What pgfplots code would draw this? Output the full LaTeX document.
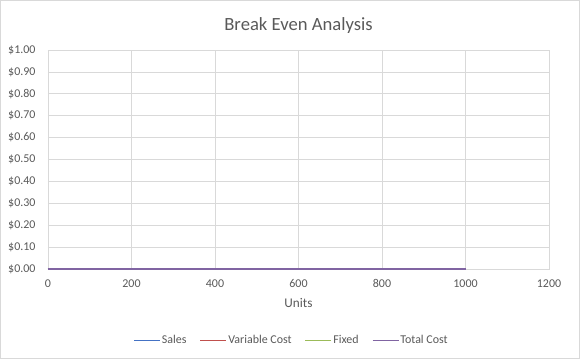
\documentclass[border=0pt]{standalone}
\usepackage{pgfplots}
\pgfplotsset{compat=1.18}
\usepackage{fontspec}
\setmainfont{Carlito}
\definecolor{txt}{HTML}{595959}
\definecolor{grd}{HTML}{D9D9D9}
\definecolor{s1}{HTML}{4472C4}
\definecolor{s2}{HTML}{C0504D}
\definecolor{s3}{HTML}{9BBB59}
\definecolor{s4}{HTML}{8064A2}
\begin{document}
\begin{tikzpicture}[x=1bp,y=1bp]
\draw[grd, line width=0.8bp] (-47.6,-89.6) rectangle (531.6,268.6);
\begin{axis}[
  at={(0,0)}, anchor=origin,
  scale only axis, width=501bp, height=219bp,
  xmin=0, xmax=1200, ymin=0, ymax=1,
  xtick={0,200,...,1200},
  ytick={0,0.1,...,1.0},
  yticklabel={\$\pgfmathprintnumber[fixed,fixed zerofill,precision=2]{\tick}},
  /pgf/number format/assume math mode=true,
  /pgf/number format/set thousands separator={},
  grid=major,
  major grid style={grd, line width=0.8bp},
  axis line style={grd, line width=0.8bp},
  tick style={draw=none},
  ticklabel style={font=\fontsize{12}{14}\selectfont, text=txt},
  xticklabel style={yshift=-7bp},
  yticklabel style={xshift=-9bp},
  xlabel={Units},
  xlabel style={font=\fontsize{13.3}{15}\selectfont, text=txt, yshift=-4bp},
  title={Break Even Analysis},
  title style={font=\fontsize{18.7}{21}\selectfont, text=txt, yshift=7bp},
  legend style={at={(0.486,-0.285)}, anchor=north, draw=none, fill=none,
    legend columns=-1, font=\fontsize{12}{14}\selectfont, text=txt,
    /tikz/every even column/.append style={column sep=11bp},
    /tikz/every odd column/.append style={column sep=-1bp}},
  legend image code/.code={\draw[#1, line width=1.7bp] (0bp,0bp) -- (26bp,0bp);},
  every axis plot/.append style={line width=1.7bp, mark=none},
]
\addplot[s1] coordinates {(0,0) (100,0) (200,0) (300,0) (400,0) (500,0) (600,0) (700,0) (800,0) (900,0) (1000,0)};
\addlegendentry{Sales}
\addplot[s2] coordinates {(0,0) (100,0) (200,0) (300,0) (400,0) (500,0) (600,0) (700,0) (800,0) (900,0) (1000,0)};
\addlegendentry{Variable Cost}
\addplot[s3] coordinates {(0,0) (100,0) (200,0) (300,0) (400,0) (500,0) (600,0) (700,0) (800,0) (900,0) (1000,0)};
\addlegendentry{Fixed}
\addplot[s4] coordinates {(0,0) (100,0) (200,0) (300,0) (400,0) (500,0) (600,0) (700,0) (800,0) (900,0) (1000,0)};
\addlegendentry{Total Cost}
\end{axis}
\end{tikzpicture}
\end{document}
